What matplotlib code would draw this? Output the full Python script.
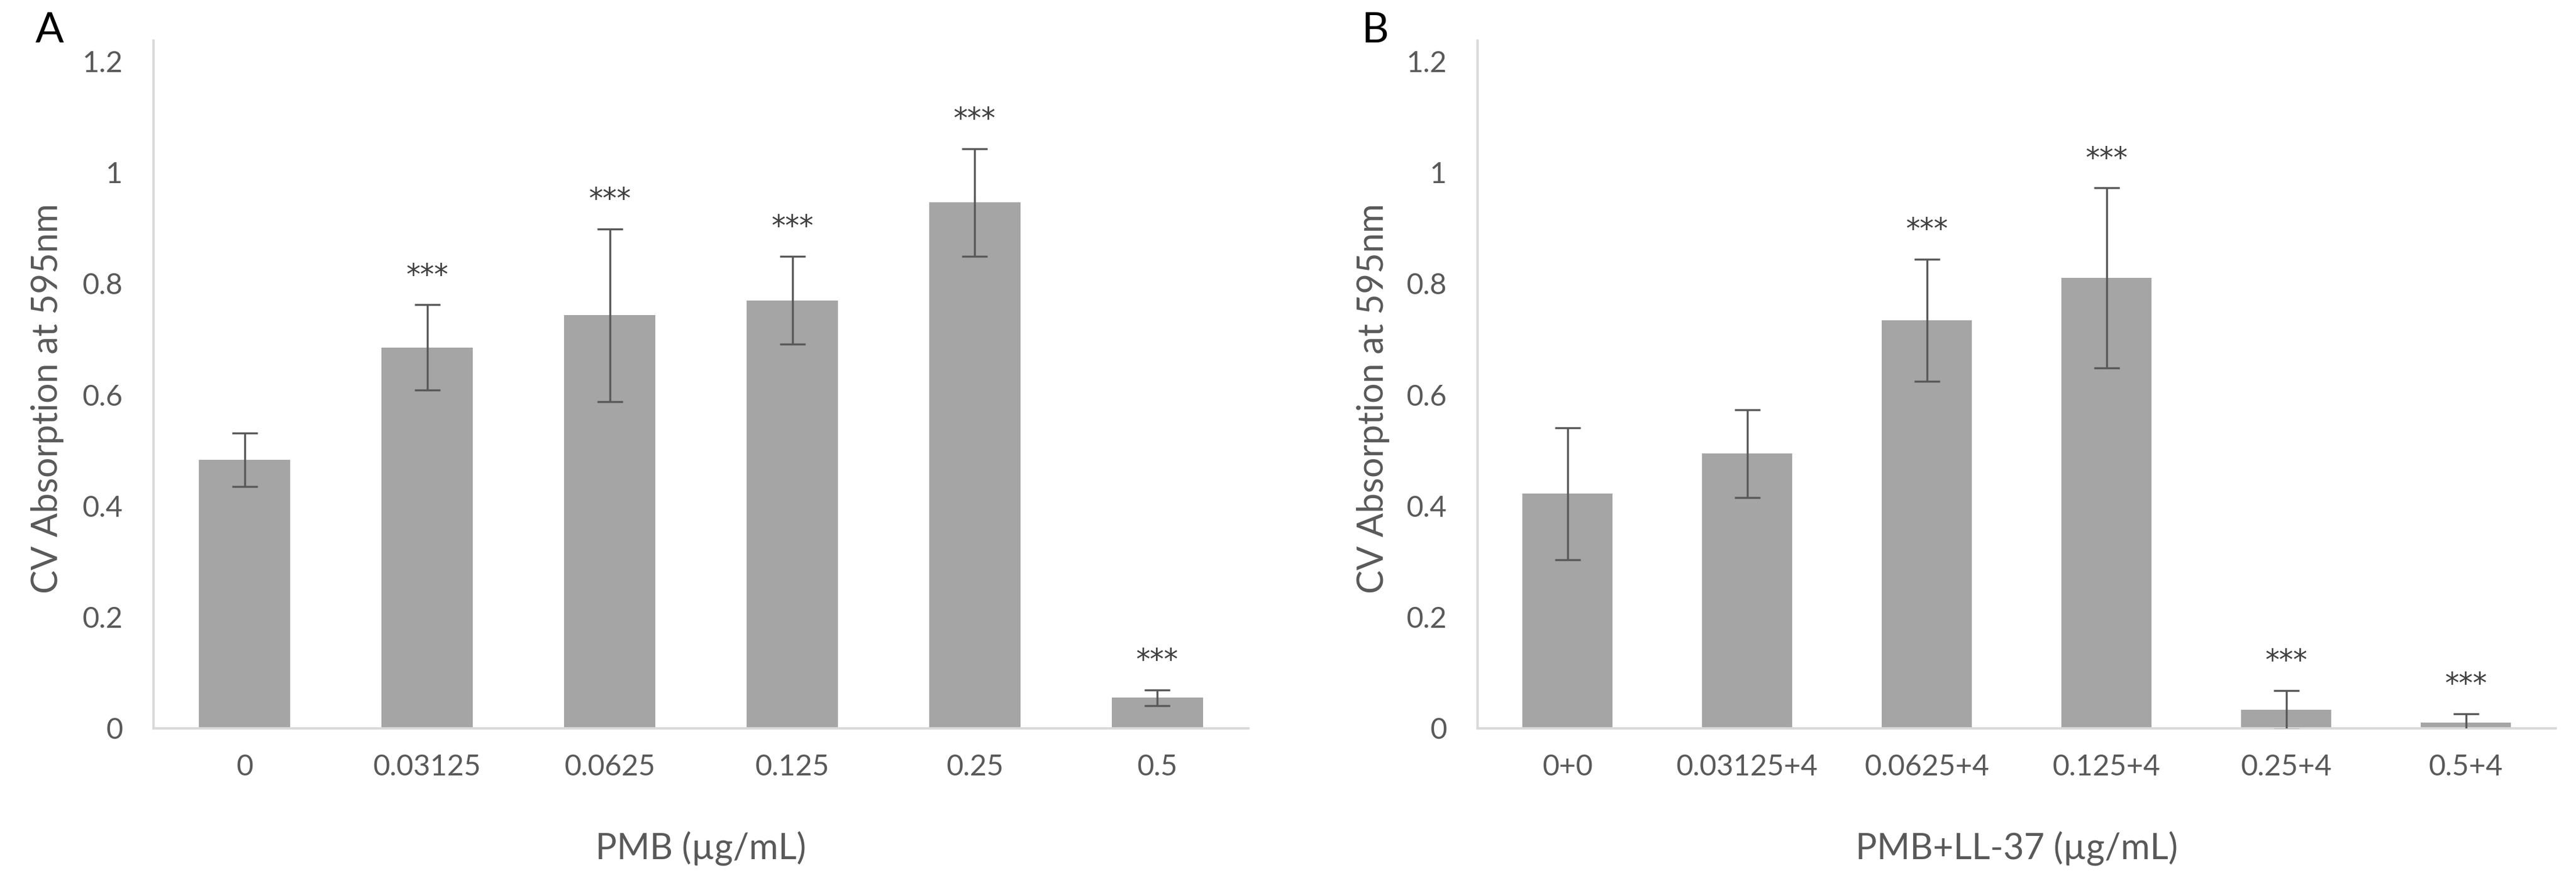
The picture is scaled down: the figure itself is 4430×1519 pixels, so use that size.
import matplotlib.pyplot as plt

plt.rcParams['font.family'] = ['Lato', 'DejaVu Sans']

labels_a = ["0", "0.03125", "0.0625", "0.125", "0.25", "0.5"]
means_a = [0.483, 0.685, 0.743, 0.770, 0.946, 0.055]
errs_a = [0.048, 0.077, 0.155, 0.079, 0.097, 0.014]
stars_a = ["", "***", "***", "***", "***", "***"]

labels_b = ["0+0", "0.03125+4", "0.0625+4", "0.125+4", "0.25+4", "0.5+4"]
means_b = [0.422, 0.494, 0.734, 0.810, 0.033, 0.010]
errs_b = [0.119, 0.079, 0.110, 0.162, 0.035, 0.016]
stars_b = ["", "", "***", "***", "***", "***"]

bar_color = "#A5A5A5"
err_color = "#595959"
text_color = "#595959"
axis_color = "#D9D9D9"

fig = plt.figure(figsize=(44.3, 15.19), dpi=100)


def panel(rect, labels, means, errs, stars, xlabel, letter):
    ax = fig.add_axes(rect)
    x = range(len(labels))
    ax.bar(x, means, width=0.5, color=bar_color, zorder=2)
    ax.errorbar(x, means, yerr=errs, fmt="none", ecolor=err_color,
                elinewidth=2.5, capsize=16, capthick=2.5, zorder=3)
    for i, s in enumerate(stars):
        if s:
            ax.text(i, means[i] + errs[i] + 0.052, s, ha="center", va="center",
                    fontsize=35, color="#404040", family="DejaVu Sans")

    ax.set_xlim(-0.5, len(labels) - 0.5)
    ax.set_ylim(0, 1.237)
    ax.set_yticks([0, 0.2, 0.4, 0.6, 0.8, 1.0, 1.2])
    ax.set_yticklabels(["0", "0.2", "0.4", "0.6", "0.8", "1", "1.2"])
    ax.set_xticks(list(x))
    ax.set_xticklabels(labels)
    ax.tick_params(axis="both", length=0, labelsize=36, colors=text_color)
    ax.tick_params(axis="y", pad=38)
    ax.tick_params(axis="x", pad=32)

    for side in ["top", "right"]:
        ax.spines[side].set_visible(False)
    for side in ["left", "bottom"]:
        ax.spines[side].set_color(axis_color)
        ax.spines[side].set_linewidth(3)

    ax.set_ylabel("CV Absorption at 595nm", fontsize=44, color=text_color)
    ax.yaxis.label.set_va("center")
    ax.yaxis.set_label_coords(-0.097, 0.48)
    ax.set_xlabel(xlabel, fontsize=44, color=text_color)
    ax.xaxis.label.set_va("center")
    ax.xaxis.set_label_coords(0.5, -0.174)

    ax.text(-0.095, 1.015, letter, transform=ax.transAxes, fontsize=52,
            color="black", ha="center", va="center")
    return ax


panel([0.0596, 0.1752, 0.4251, 0.7787], labels_a, means_a, errs_a, stars_a,
      "PMB (µg/mL)", "A")
panel([0.5736, 0.1752, 0.4185, 0.7787], labels_b, means_b, errs_b, stars_b,
      "PMB+LL-37 (µg/mL)", "B")

fig.savefig("out.png", dpi=100)
